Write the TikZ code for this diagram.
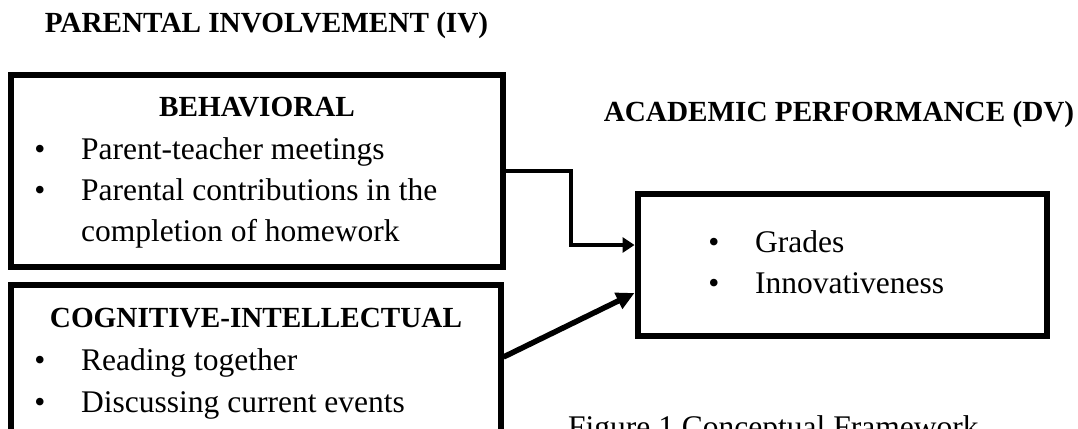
\documentclass[tikz,border=0pt]{standalone}
\usepackage{fontspec}
\setmainfont{Liberation Serif}
\usetikzlibrary{arrows.meta}
\begin{document}
\begin{tikzpicture}[x=1pt,y=-1pt,
  frame/.style={draw=black, line width=6pt, inner sep=0pt},
  head/.style={font=\fontsize{29.2}{35}\selectfont\bfseries, inner sep=0pt, anchor=base},
  body/.style={font=\fontsize{31.5}{41}\selectfont, inner sep=0pt, anchor=base west},
  dot/.style={font=\fontsize{31.5}{41}\selectfont, inner sep=0pt, anchor=base},
  link/.style={line width=3.5pt, -{Triangle[length=12pt,width=15pt]}},
  thicklink/.style={line width=5.5pt, -{Triangle[length=18pt,width=17pt]}}]
\useasboundingbox (0,0) rectangle (1078,428);

% frames
\node[frame, minimum width=492pt, minimum height=192pt] (b1) at (257,171) {};
\node[frame, minimum width=489.5pt, minimum height=200pt] (b2) at (255.75,385) {};
\node[frame, minimum width=409.5pt, minimum height=142.5pt] (b3) at (842.25,264.75) {};

% headings
\node[head] (iv) at (266.5,33) {PARENTAL INVOLVEMENT (IV)};
\node[head] (dv) at (839,121) {ACADEMIC PERFORMANCE (DV)};
\node[head] (h1) at (257,116) {BEHAVIORAL};
\node[head] (h2) at (256,327.6) {COGNITIVE-INTELLECTUAL};

% behavioral items
\node[dot] (d11) at (40,159) {\textbullet};
\node[body] (t11) at (81,159) {Parent-teacher meetings};
\node[dot] (d12) at (40,200) {\textbullet};
\node[body] (t12) at (81,200) {Parental contributions in the};
\node[body] (t13) at (81,241) {completion of homework};

% cognitive-intellectual items
\node[dot] (d21) at (40,370.7) {\textbullet};
\node[body] (t21) at (81,370.7) {Reading together};
\node[dot] (d22) at (40,412) {\textbullet};
\node[body] (t22) at (81,412) {Discussing current events};

% academic performance items
\node[dot] (d31) at (714,252) {\textbullet};
\node[body] (t31) at (755,252) {Grades};
\node[dot] (d32) at (714,293) {\textbullet};
\node[body] (t32) at (755,293) {Innovativeness};

% caption
\node[body] (cap) at (568,437) {Figure 1 Conceptual Framework};

% connectors
\draw[link] (b1.east) -- ++(65,0) |- ([yshift=-54.5pt]b3.north west);
\draw[thicklink] ([yshift=-75pt]b2.north east) -- ([yshift=46pt]b3.south west);
\end{tikzpicture}
\end{document}
